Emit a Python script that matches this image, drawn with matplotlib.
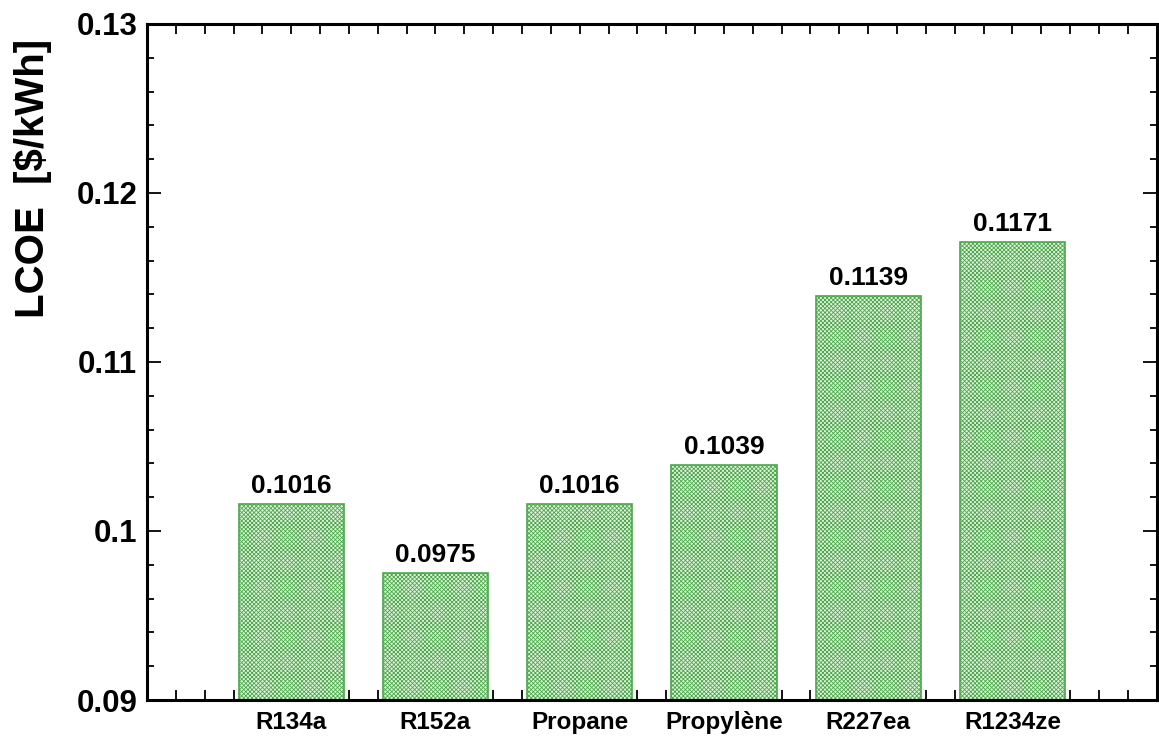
import matplotlib
matplotlib.use("Agg")
import matplotlib.pyplot as plt
from matplotlib.ticker import MultipleLocator
import numpy as np

categories = ["R134a", "R152a", "Propane", "Propylène", "R227ea", "R1234ze"]
lcoe = [0.1016, 0.0975, 0.1016, 0.1039, 0.1139, 0.1171]
labels = ["0.1016", "0.0975", "0.1016", "0.1039", "0.1139", "0.1171"]
yticks = [0.09, 0.10, 0.11, 0.12, 0.13]
ytick_labels = ["0.09", "0.1", "0.11", "0.12", "0.13"]

plt.rcParams['font.family'] = ['Liberation Sans', 'DejaVu Sans']
plt.rcParams['hatch.linewidth'] = 0.6
plt.rcParams['hatch.color'] = '#72bd72'

fig = plt.figure(figsize=(11.59, 7.42), dpi=100)
ax = fig.add_axes([0.1268, 0.0566, 0.8712, 0.9111])

x = np.arange(len(categories))
bars = ax.bar(x, lcoe, width=0.73, bottom=0, color='#e6f4e2', hatch='xxxxxxxx',
              edgecolor='#4aa84a', linewidth=1.2, zorder=2)
for b in bars:
    b.set_edgecolor('#4aa84a')

for xi, v, lab in zip(x, lcoe, labels):
    ax.text(xi, v + 0.00035, lab, ha='center', va='bottom', fontsize=19,
            fontweight='bold', color='black')

ax.set_xlim(-1, 6)
ax.set_ylim(0.09, 0.13)
ax.set_xticks(x)
ax.set_xticklabels(categories, fontsize=17.5, fontweight='bold')
ax.xaxis.set_minor_locator(MultipleLocator(0.2))
ax.set_yticks(yticks)
ax.set_yticklabels(ytick_labels, fontsize=22.5, fontweight='bold')
ax.yaxis.set_minor_locator(MultipleLocator(0.002))

ax.tick_params(axis='both', which='both', direction='in', top=True, right=True,
               width=1.3, color='black')
ax.tick_params(axis='x', which='major', length=7, pad=8)
ax.tick_params(axis='x', which='minor', length=7)
ax.tick_params(axis='y', which='major', length=10, pad=7)
ax.tick_params(axis='y', which='minor', length=5)

for s in ax.spines.values():
    s.set_linewidth(2.2)

ax.set_ylabel("LCOE  [$/kWh]", fontsize=29, fontweight='bold')
ax.yaxis.set_label_coords(-0.094, 0.771)

fig.savefig("out.png", dpi=100)
